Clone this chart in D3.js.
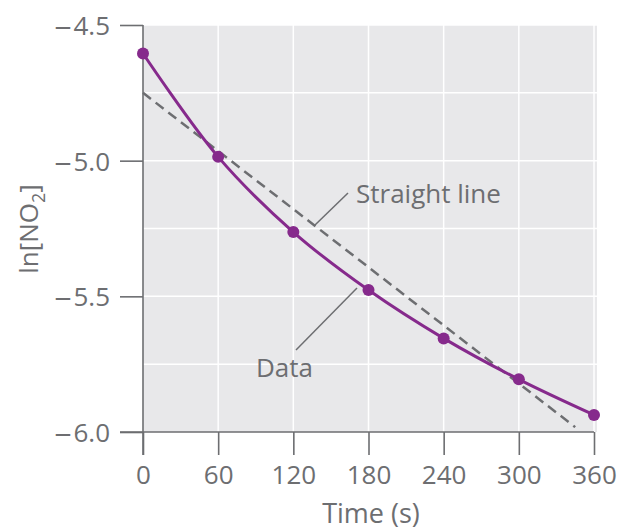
<!DOCTYPE html>
<html><head><meta charset="utf-8">
<script src="https://cdn.jsdelivr.net/npm/d3@7"></script>
<style>body{margin:0;background:#fff}svg{display:block}text{font-family:"Open Sans","Noto Sans",sans-serif;fill:#6d6e71}</style>
</head><body>
<script>
const times = [0, 60, 120, 180, 240, 300, 360];
const lnNO2 = [-4.605, -4.986, -5.263, -5.477, -5.655, -5.806, -5.937];
const straightT = [0, 345];
const straightV = [-4.75, -5.982];
const xTicks = [0, 60, 120, 180, 240, 300, 360];
const yTicks = [-4.5, -5.0, -5.5, -6.0];
const yGrid = [-4.5, -4.75, -5.0, -5.25, -5.5, -5.75];

const W = 624, H = 531;
const svg = d3.select("body").append("svg").attr("width", W).attr("height", H);
const x = d3.scaleLinear().domain([0, 360]).range([143, 594]);
const y = d3.scaleLinear().domain([-4.5, -6.0]).range([25, 432]);
const grey = "#6d6e71";

// background
svg.append("rect").attr("x", 143).attr("y", 25).attr("width", 597 - 143).attr("height", 432 - 25).attr("fill", "#e8e8ea");
// grid
svg.append("g").selectAll("line").data(yGrid).join("line")
  .attr("x1", 143).attr("x2", 597).attr("y1", d => y(d)).attr("y2", d => y(d))
  .attr("stroke", "#fff").attr("stroke-width", 1.5);
svg.append("g").selectAll("line").data(xTicks.slice(1)).join("line")
  .attr("x1", d => x(d)).attr("x2", d => x(d)).attr("y1", 25).attr("y2", 432)
  .attr("stroke", "#fff").attr("stroke-width", 1.5);

// axes
const yAxis = d3.axisLeft(y).tickValues(yTicks).tickSize(23).tickPadding(10).tickFormat(d => Math.abs(d).toFixed(1));
const gy = svg.append("g").attr("transform", "translate(143,0)").call(yAxis);
const xAxis = d3.axisBottom(x).tickValues(xTicks).tickSize(23).tickPadding(11);
const gx = svg.append("g").attr("transform", "translate(0,432)").call(xAxis);
[gx, gy].forEach(g => {
  g.select(".domain").remove();
  g.selectAll("line").attr("stroke", grey).attr("stroke-width", 1.6);
  g.selectAll("text").attr("fill", grey).style("font-size", "26px").style("font-family", '"Open Sans",sans-serif');
});
gy.selectAll("text").attr("dy", "0.36em").each(function(d) {
  const t = d3.select(this), s = t.text();
  t.text(null);
  if (d < 0) t.append("tspan").style("font-family", '"DejaVu Sans",sans-serif').style("font-size", "23px").text("\u2212");
  t.append("tspan").attr("dx", 1).text(s);
});
svg.append("line").attr("x1", 143).attr("x2", 143).attr("y1", 25).attr("y2", 455).attr("stroke", grey).attr("stroke-width", 1.6);
svg.append("line").attr("x1", 120).attr("x2", 594).attr("y1", 432).attr("y2", 432).attr("stroke", grey).attr("stroke-width", 1.6);

// straight line
svg.append("line")
  .attr("x1", x(straightT[0])).attr("y1", y(straightV[0]))
  .attr("x2", x(straightT[1])).attr("y2", y(straightV[1]))
  .attr("stroke", "#6d6e71").attr("stroke-width", 2.5).attr("stroke-dasharray", "10,6");

// data curve
const pts = times.map((t, i) => [t, lnNO2[i]]);
svg.append("path").datum(pts)
  .attr("d", d3.line().x(d => x(d[0])).y(d => y(d[1])).curve(d3.curveCatmullRom))
  .attr("fill", "none").attr("stroke", "#862a8c").attr("stroke-width", 3);
svg.append("g").selectAll("circle").data(pts).join("circle")
  .attr("cx", d => x(d[0])).attr("cy", d => y(d[1])).attr("r", 6).attr("fill", "#862a8c");

// annotations
svg.append("line").attr("x1", 348).attr("y1", 193).attr("x2", 315).attr("y2", 225).attr("stroke", grey).attr("stroke-width", 1.5);
svg.append("text").attr("x", 356).attr("y", 203).style("font-size", "26px").text("Straight line");
svg.append("line").attr("x1", 357).attr("y1", 288).attr("x2", 296).attr("y2", 350).attr("stroke", grey).attr("stroke-width", 1.5);
svg.append("text").attr("x", 256).attr("y", 377).style("font-size", "26px").text("Data");

// axis titles
svg.append("text").attr("x", 371).attr("y", 523).attr("text-anchor", "middle").style("font-size", "27px").text("Time (s)");
const yl = svg.append("text").attr("transform", "translate(38,229) rotate(-90)").attr("text-anchor", "middle").style("font-size", "26px");
yl.append("tspan").text("ln[NO");
yl.append("tspan").attr("dy", 7).style("font-size", "18px").text("2");
yl.append("tspan").attr("dy", -7).text("]");
</script>
</body></html>
